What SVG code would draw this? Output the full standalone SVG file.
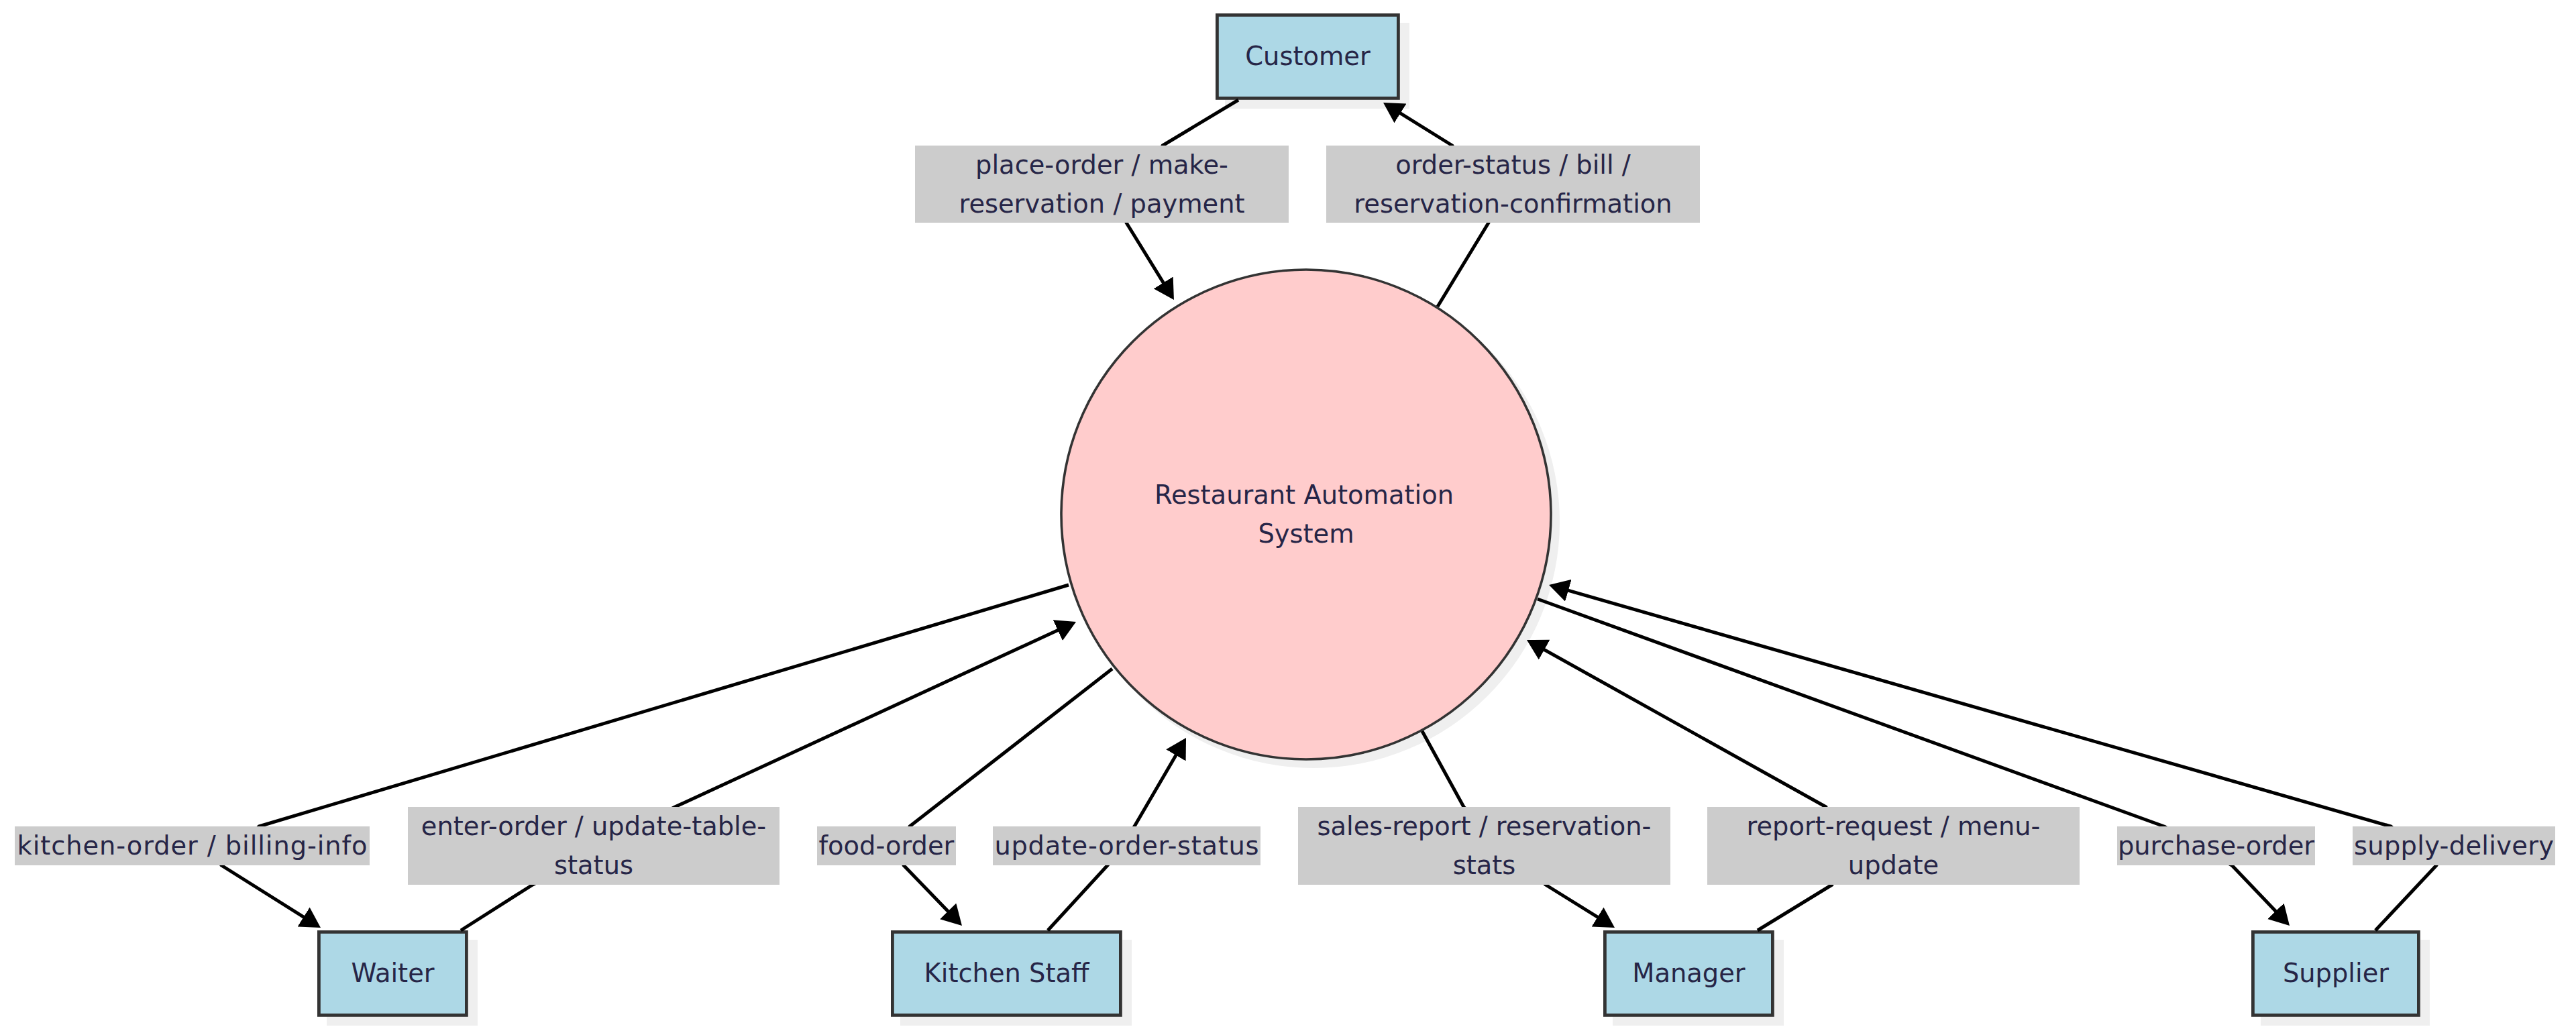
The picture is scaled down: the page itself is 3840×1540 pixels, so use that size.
<svg xmlns="http://www.w3.org/2000/svg" width="3840" height="1540" viewBox="0 0 3840 1540">
<style>
text { font-family: "DejaVu Sans", "Liberation Sans", sans-serif; font-size: 38.4px; fill: #262547; text-anchor: middle; }
.box { fill: #add8e6; stroke: #333333; stroke-width: 4.8; }
.sys { fill: #ffcccc; stroke: #333333; stroke-width: 3.6; }
.shadow { fill: #efefef; }
.edge { fill: none; stroke: #000000; stroke-width: 5; stroke-linejoin: round; }
.arrow { marker-end: url(#arrowhead); }
.lbl rect { fill: #cccccc; }
</style>
<defs>
<marker id="arrowhead" viewBox="0 0 30 34" refX="24" refY="17" markerWidth="30" markerHeight="34" markerUnits="userSpaceOnUse" orient="auto">
<path d="M0,0 L30,17 L0,34 z" fill="#000000"/>
</marker>
</defs>
<rect x="0" y="0" width="3840" height="1540" fill="#ffffff"/>

<g id="system">
<circle class="shadow" cx="1958" cy="778" r="367"/>
<circle class="sys" cx="1947" cy="767" r="365"/>
<text x="1944" y="751">Restaurant Automation</text>
<text x="1947" y="809">System</text>
</g>

<g id="customer">
<rect class="shadow" x="1826" y="34" width="275" height="128"/>
<rect class="box" x="1814.4" y="22.4" width="270" height="124"/>
<text x="1949.5" y="97">Customer</text>
</g>

<g id="waiter">
<rect class="shadow" x="487" y="1401" width="225" height="128"/>
<rect class="box" x="475.4" y="1389.4" width="220" height="124"/>
<text x="585.5" y="1464">Waiter</text>
</g>

<g id="kitchen-staff">
<rect class="shadow" x="1342" y="1401" width="345" height="128"/>
<rect class="box" x="1330.4" y="1389.4" width="340" height="124"/>
<text x="1500.5" y="1464">Kitchen Staff</text>
</g>

<g id="manager">
<rect class="shadow" x="2404" y="1401" width="255" height="128"/>
<rect class="box" x="2392.4" y="1389.4" width="250" height="124"/>
<text x="2517.5" y="1464">Manager</text>
</g>

<g id="supplier">
<rect class="shadow" x="3370" y="1401" width="252" height="128"/>
<rect class="box" x="3358.4" y="1389.4" width="247" height="124"/>
<text x="3482" y="1464">Supplier</text>
</g>

<g id="connectors">
<path class="edge arrow" d="M1846,149 L1733,217 L1679,332 L1746.8,441.9"/>
<path class="edge arrow" d="M2143,457 L2219,332 L2165,217 L2067.1,156.2"/>
<path class="edge arrow" d="M1593,872 L386,1232 L330,1290 L472.9,1379.8"/>
<path class="edge arrow" d="M687,1387 L794,1319 L1006,1203 L1598.6,929.5"/>
<path class="edge arrow" d="M1658,997 L1356,1232 L1347,1290 L1429.8,1375.7"/>
<path class="edge arrow" d="M1562,1387 L1651,1290 L1691,1232 L1765,1105.2"/>
<path class="edge arrow" d="M2120,1090 L2182,1203 L2304,1319 L2401.9,1379.8"/>
<path class="edge arrow" d="M2620,1387 L2731,1319 L2722,1203 L2281.2,956.9"/>
<path class="edge arrow" d="M2292,893 L3226,1232 L3327,1290 L3408.9,1375.7"/>
<path class="edge arrow" d="M3541,1387 L3632,1290 L3564,1232 L2314.8,873.7"/>
</g>

<g id="edge-labels">
<g class="lbl" id="lbl-place-order">
<rect x="1364" y="217" width="557" height="115"/>
<text x="1642.5" y="259">place-order / make-</text>
<text x="1642.5" y="316.6">reservation / payment</text>
</g>
<g class="lbl" id="lbl-order-status">
<rect x="1977" y="217" width="557" height="115"/>
<text x="2255.5" y="259">order-status / bill /</text>
<text x="2255.5" y="316.6">reservation-confirmation</text>
</g>
<g class="lbl" id="lbl-kitchen-order">
<rect x="22" y="1232" width="529" height="58"/>
<text x="286.5" y="1274" textLength="522" lengthAdjust="spacing">kitchen-order / billing-info</text>
</g>
<g class="lbl" id="lbl-enter-order">
<rect x="608" y="1203" width="554" height="116"/>
<text x="885" y="1245">enter-order / update-table-</text>
<text x="885" y="1302.6">status</text>
</g>
<g class="lbl" id="lbl-food-order">
<rect x="1218" y="1232" width="207" height="58"/>
<text x="1321.5" y="1274">food-order</text>
</g>
<g class="lbl" id="lbl-update-order-status">
<rect x="1480" y="1232" width="399" height="58"/>
<text x="1679.5" y="1274" textLength="394" lengthAdjust="spacing">update-order-status</text>
</g>
<g class="lbl" id="lbl-sales-report">
<rect x="1935" y="1203" width="555" height="116"/>
<text x="2212.5" y="1245">sales-report / reservation-</text>
<text x="2212.5" y="1302.6">stats</text>
</g>
<g class="lbl" id="lbl-report-request">
<rect x="2545" y="1203" width="555" height="116"/>
<text x="2822.5" y="1245">report-request / menu-</text>
<text x="2822.5" y="1302.6">update</text>
</g>
<g class="lbl" id="lbl-purchase-order">
<rect x="3156" y="1232" width="295" height="58"/>
<text x="3303.5" y="1274">purchase-order</text>
</g>
<g class="lbl" id="lbl-supply-delivery">
<rect x="3507" y="1232" width="302" height="58"/>
<text x="3658" y="1274" textLength="298" lengthAdjust="spacing">supply-delivery</text>
</g>
</g>
</svg>
